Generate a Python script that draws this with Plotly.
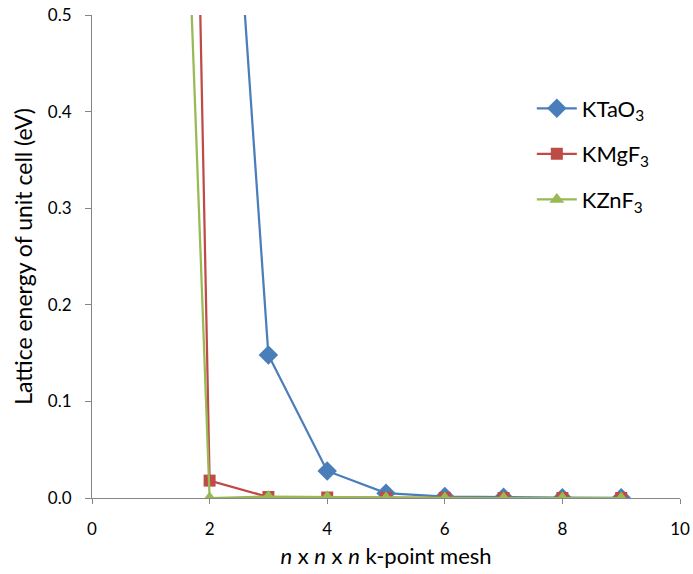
import plotly.graph_objects as go

# k-point mesh size n (n x n x n)
n_ktao3 = [2, 3, 4, 5, 6, 7, 8, 9]
n_kmgf3 = [1, 2, 3, 4, 5, 6, 7, 8, 9]
n_kznf3 = [1, 2, 3, 4, 5, 6, 7, 8, 9]

# lattice energy of unit cell relative to converged value (eV)
e_ktao3 = [1.03, 0.148, 0.028, 0.005, 0.0015, 0.0008, 0.0003, 0.0002]
e_kmgf3 = [3.07, 0.018, 0.001, 0.0005, 0.0002, 0.0001, 0.0, 0.0, 0.0]
e_kznf3 = [1.645, 0.0, 0.0015, 0.001, 0.0002, 0.0001, 0.0, 0.0, 0.0]

names = ["KTaO<sub>3</sub>", "KMgF<sub>3</sub>", "KZnF<sub>3</sub>"]
colors = ["#4A7EBB", "#BE4B48", "#98B954"]
symbols = ["diamond", "square", "triangle-up"]
sizes = [15, 12, 13]

FONT = "Lato, Carlito, Calibri, sans-serif"

fig = go.Figure()
for i, (x, y) in enumerate([(n_ktao3, e_ktao3), (n_kmgf3, e_kmgf3), (n_kznf3, e_kznf3)]):
    fig.add_trace(go.Scatter(
        x=x, y=y, name=names[i], mode="lines+markers",
        line=dict(color=colors[i], width=2.25),
        marker=dict(symbol=symbols[i], size=sizes[i], color=colors[i]),
        legendgroup=f"g{i}",
    ))

axis_color = "#868686"
fig.update_layout(
    width=693, height=574,
    margin=dict(l=92, r=13, t=15, b=76),
    paper_bgcolor="white", plot_bgcolor="white",
    font=dict(family=FONT, size=17, color="#000000"),
    showlegend=True,
    legend=dict(
        x=0.748, y=0.85, xanchor="left", yanchor="top",
        font=dict(family=FONT, size=22),
        tracegroupgap=14, itemwidth=40,
        bgcolor="rgba(0,0,0,0)",
    ),
    xaxis=dict(
        range=[0, 10], dtick=2, tick0=0,
        showgrid=False, zeroline=False, automargin=False,
        showline=True, linecolor=axis_color, linewidth=1,
        ticks="outside", ticklen=5, tickcolor=axis_color,
        ticklabelstandoff=11,
        tickfont=dict(size=17),
        title=dict(text="<i>n</i> x <i>n</i> x <i>n</i> k-point mesh",
                   font=dict(size=22), standoff=10),
    ),
    yaxis=dict(
        range=[0, 0.5], dtick=0.1, tick0=0, tickformat=".1f",
        showgrid=False, zeroline=False, automargin=False,
        showline=True, linecolor=axis_color, linewidth=1,
        ticks="outside", ticklen=6, tickcolor=axis_color,
        ticklabelstandoff=10,
        tickfont=dict(size=17),
        title=dict(text="Lattice energy of unit cell (eV)",
                   font=dict(size=23), standoff=8),
    ),
)

fig.write_html("out.html")
